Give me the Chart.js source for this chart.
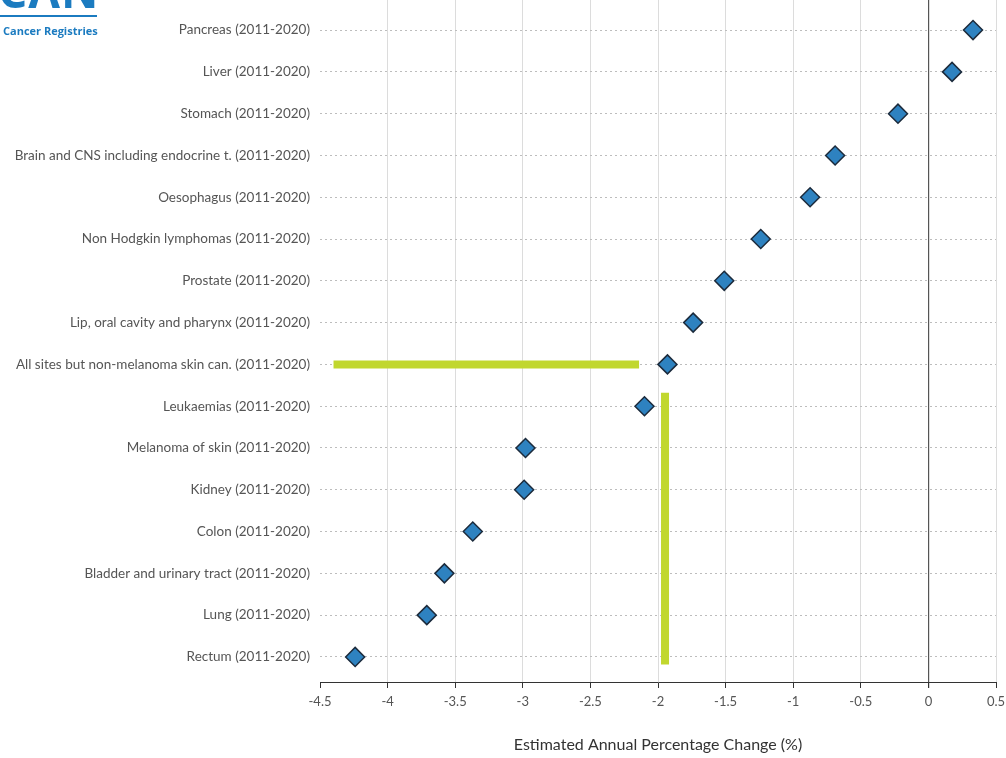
<!DOCTYPE html>
<html>
<head>
<meta charset="utf-8">
<script src="https://cdn.jsdelivr.net/npm/chart.js@4/dist/chart.umd.min.js"></script>
<style>
html,body{margin:0;padding:0;background:#fff;}
#wrap{position:relative;width:1006px;height:758px;overflow:hidden;}
canvas{position:absolute;left:0;top:0;}
#logo{position:absolute;left:0;top:0;width:100px;height:40px;z-index:2;}
#can{position:absolute;left:-2px;top:-33px;font:bold 46px "Open Sans",sans-serif;color:#1b7bc0;letter-spacing:1px;line-height:46px;}
#bar{position:absolute;left:0;top:15px;width:97px;height:2px;background:#1b7bc0;}
#reg{position:absolute;left:3px;top:23px;font:bold 11px "Open Sans",sans-serif;color:#1b7bc0;white-space:nowrap;}
</style>
</head>
<body>
<div id="wrap">
<canvas id="c" width="1006" height="758"></canvas>
<div id="logo"><div id="can">CAN</div><div id="bar"></div><div id="reg">Cancer Registries</div></div>
</div>
<script>
const categories = [
  "Pancreas (2011-2020)",
  "Liver (2011-2020)",
  "Stomach (2011-2020)",
  "Brain and CNS including endocrine t. (2011-2020)",
  "Oesophagus (2011-2020)",
  "Non Hodgkin lymphomas (2011-2020)",
  "Prostate (2011-2020)",
  "Lip, oral cavity and pharynx (2011-2020)",
  "All sites but non-melanoma skin can. (2011-2020)",
  "Leukaemias (2011-2020)",
  "Melanoma of skin (2011-2020)",
  "Kidney (2011-2020)",
  "Colon (2011-2020)",
  "Bladder and urinary tract (2011-2020)",
  "Lung (2011-2020)",
  "Rectum (2011-2020)"
];
const apcValues = [0.33, 0.175, -0.225, -0.69, -0.875, -1.24, -1.51, -1.74, -1.93, -2.10, -2.98, -2.99, -3.37, -3.58, -3.71, -4.24];
const xTicks = [-4.5, -4, -3.5, -3, -2.5, -2, -1.5, -1, -0.5, 0, 0.5];
const highlightHorizontal = [{x: -4.40, y: 8}, {x: -2.14, y: 8}];
const highlightVertical = [{x: -1.948, y: 8.68}, {x: -1.948, y: 15.18}];

const points = apcValues.map((v, i) => ({x: v, y: i}));
const green = '#c1d72e';

new Chart(document.getElementById('c'), {
  type: 'scatter',
  data: {
    datasets: [
      {data: highlightHorizontal, showLine: true, borderColor: green, borderWidth: 8, pointRadius: 0, borderCapStyle: 'butt', order: 2},
      {data: highlightVertical, showLine: true, borderColor: green, borderWidth: 8, pointRadius: 0, borderCapStyle: 'butt', order: 2},
      {data: points, pointStyle: 'rectRot', pointRadius: 9.5, pointHoverRadius: 9.5, backgroundColor: '#2e82c0', borderColor: '#1c2b3c', borderWidth: 1.5, order: 1}
    ]
  },
  options: {
    responsive: false,
    animation: false,
    events: [],
    layout: {padding: 0, autoPadding: false},
    plugins: {legend: {display: false}, tooltip: {enabled: false}},
    scales: {
      x: {
        type: 'linear', min: -4.5, max: 0.5,
        afterBuildTicks: s => { s.ticks = xTicks.map(v => ({value: v})); },
        afterFit: s => { s.height = 76; s.paddingLeft = 0; s.paddingRight = 10; },
        border: {display: true, color: '#333', width: 1},
        grid: {
          color: c => c.tick && c.tick.value === 0 ? '#555' : (c.tick && c.tick.value === -4.5 ? 'rgba(0,0,0,0)' : '#dcdcdc'),
          lineWidth: c => c.tick && c.tick.value === 0 ? 1.2 : 1,
          tickColor: '#333', tickLength: 6, drawTicks: true
        },
        ticks: {color: '#555', font: {family: 'Lato', size: 13}, padding: 6, callback: v => String(v)},
        title: {display: true, text: 'Estimated Annual Percentage Change (%)', color: '#333', font: {family: 'Lato', size: 16}, padding: {top: 4, bottom: 4}}
      },
      y: {
        type: 'linear', min: -0.72, max: 15.6, reverse: true,
        afterBuildTicks: s => { s.ticks = categories.map((_, i) => ({value: i})); },
        afterFit: s => { s.width = 320; s.paddingTop = 0; s.paddingBottom = 0; },
        border: {display: false, dash: [2, 3]},
        grid: {color: '#bdbdbd', drawTicks: false, lineWidth: 1},
        ticks: {color: '#555', font: {family: 'Lato', size: 13.5}, padding: 10, autoSkip: false, callback: v => categories[v] !== undefined ? categories[v] : ''}
      }
    }
  }
});
</script>
</body>
</html>
